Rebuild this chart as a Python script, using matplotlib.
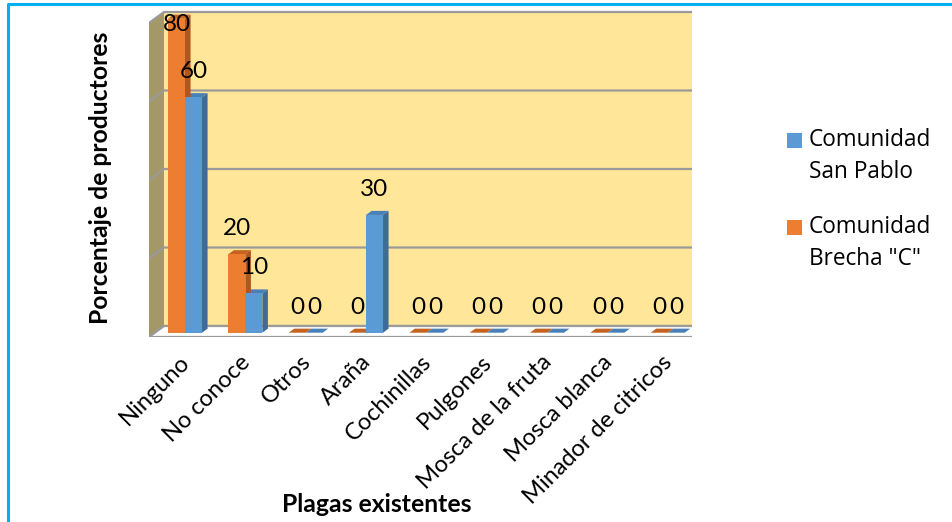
import matplotlib
matplotlib.use("Agg")
import matplotlib.pyplot as plt
from matplotlib.patches import Polygon, Rectangle
from matplotlib.lines import Line2D

# datos
categorias = ["Ninguno", "No conoce", "Otros", "Araña", "Cochinillas", "Pulgones",
              "Mosca de la fruta", "Mosca blanca", "Minador de citricos"]
brecha_c = [80, 20, 0, 0, 0, 0, 0, 0, 0]
san_pablo = [60, 10, 0, 30, 0, 0, 0, 0, 0]
y_ticks = [0, 20, 40, 60, 80]

NARANJA = "#ED7D31"
NARANJA_LADO = "#B0561F"
NARANJA_TECHO = "#C4631F"
AZUL = "#5B9BD5"
AZUL_LADO = "#3E6C97"
AZUL_TECHO = "#4A80B8"
GRIS = "#9A9A9A"

W, H = 953, 522
fig = plt.figure(figsize=(W / 100, H / 100), dpi=100)

# plano frontal del grafico en pixeles
x0_px, x1_px, y0_px = 149, 692, 337
px_y = 3.925
YMAX = 85
ax = fig.add_axes([x0_px / W, 1 - y0_px / H, (x1_px - x0_px) / W, YMAX * px_y / H])
ax.set_xlim(-0.5, len(categorias) - 0.5)
ax.set_ylim(0, YMAX)
ax.axis("off")

# profundidad (15 px a la derecha, 11 px hacia arriba) en unidades de datos
px_x = (x1_px - x0_px) / len(categorias)
DX = 15 / px_x
DY = 11 / px_y
xl, xr = -0.5, len(categorias) - 0.5
ytop = y_ticks[-1]

# pared del fondo, pared izquierda y piso
ax.add_patch(Polygon([(xl + DX, DY), (xr + DX, DY), (xr + DX, ytop + DY), (xl + DX, ytop + DY)],
                     closed=True, fc="#FFE699", ec="none", zorder=1))
ax.add_patch(Polygon([(xl, 0), (xl + DX, DY), (xl + DX, ytop + DY), (xl, ytop)],
                     closed=True, fc="#A49868", ec="none", zorder=1))
for t in y_ticks:
    ax.add_line(Line2D([xl, xl + DX, xr + DX], [t, t + DY, t + DY], color=GRIS, lw=1.6,
                       zorder=2, solid_capstyle="butt"))
ax.add_patch(Polygon([(xl, 0), (xr, 0), (xr + DX, DY), (xl + DX, DY)],
                     closed=True, fc="white", ec=GRIS, lw=1.6, zorder=3))

# barras 3D: cara frontal con ax.bar, lados y techo con poligonos
w = 17 / px_x
f0, f1 = 0.39, 0.76
ox, oy = f0 * DX, f0 * DY
sx, sy = (f1 - f0) * DX, (f1 - f0) * DY


def barras(valores, desplaz, color, lado, techo):
    xs = [i + desplaz + ox for i in range(len(valores))]
    ax.bar(xs, valores, width=w, bottom=oy, align="edge", color=color, zorder=5)
    for x, v in zip(xs, valores):
        top = oy + v
        ax.add_patch(Polygon([(x + w, oy), (x + w + sx, oy + sy), (x + w + sx, top + sy), (x + w, top)],
                             closed=True, fc=lado, ec="none", zorder=4))
        ax.add_patch(Polygon([(x, top), (x + w, top), (x + w + sx, top + sy), (x + sx, top + sy)],
                             closed=True, fc=techo, ec="none", zorder=4))
        ly = min(v + 6.5, ytop - 1.5) + oy
        ax.text(x + w / 2, ly, str(v), ha="center", va="center", fontsize=17.5,
                family="Lato", zorder=8)


# orden de dibujo: de derecha a izquierda para que las caras se tapen bien
barras(san_pablo, 0, AZUL, AZUL_LADO, AZUL_TECHO)
barras(brecha_c, -w, NARANJA, NARANJA_LADO, NARANJA_TECHO)

# etiquetas de categorias
for i, c in enumerate(categorias):
    ax.text(i + 0.12, -5.5, c, rotation=45, rotation_mode="anchor", ha="right", va="center",
            fontsize=17, family="Lato")

fig.text(101 / W, 1 - 178 / H, "Porcentaje de productores", rotation=90, ha="center",
         va="center", fontsize=17.8, family="Lato", fontweight="bold")
fig.text(377 / W, 1 - 512 / H, "Plagas existentes", ha="center", va="baseline",
         fontsize=17.8, family="Lato", fontweight="bold")

# leyenda
leyenda = [(AZUL, "Comunidad\nSan Pablo", 133), (NARANJA, 'Comunidad\nBrecha "C"', 220)]
for col, txt, ypx in leyenda:
    fig.patches.append(Rectangle((787 / W, 1 - (ypx + 15) / H), 15 / W, 15 / H,
                                 transform=fig.transFigure, fc=col, ec="none"))
    fig.text(809 / W, 1 - (ypx + 23) / H, txt, ha="left", va="center", fontsize=16.3,
             family="Open Sans", linespacing=1.45)

# marco celeste (arriba e izquierda)
fig.add_artist(Line2D([8 / W, 8 / W, 1], [0, 1 - 4 / H, 1 - 4 / H], transform=fig.transFigure,
                      color="#00B0F0", lw=2.2))

fig.savefig("out.png", dpi=100)
